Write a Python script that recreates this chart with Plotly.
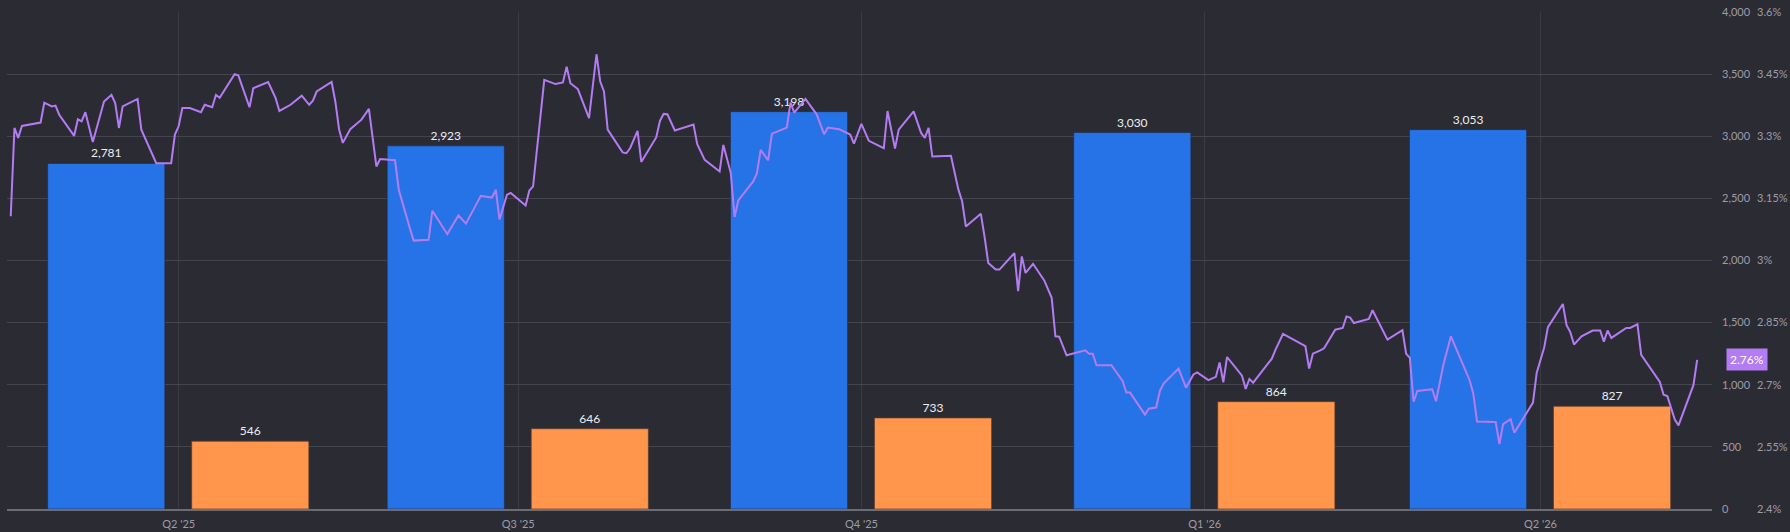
import plotly.graph_objects as go

# quarterly bars
quarters = ["2025-04-01", "2025-07-01", "2025-10-01", "2026-01-01", "2026-04-01"]
quarter_labels = ["Q2 '25", "Q3 '25", "Q4 '25", "Q1 '26", "Q2 '26"]
blue_vals = [2781, 2923, 3198, 3030, 3053]
orange_vals = [546, 646, 733, 864, 827]

# rate line (%)
rate_dates = [
    "2025-02-15", "2025-02-16", "2025-02-17", "2025-02-18", "2025-02-23", "2025-02-24",
    "2025-02-26", "2025-02-27", "2025-02-28", "2025-03-04", "2025-03-05", "2025-03-06",
    "2025-03-07", "2025-03-09", "2025-03-12", "2025-03-14", "2025-03-15", "2025-03-16",
    "2025-03-17", "2025-03-21", "2025-03-22", "2025-03-23", "2025-03-25", "2025-03-26",
    "2025-03-30", "2025-03-31", "2025-04-01", "2025-04-02", "2025-04-04", "2025-04-07",
    "2025-04-08", "2025-04-10", "2025-04-11", "2025-04-12", "2025-04-16", "2025-04-17",
    "2025-04-20", "2025-04-21", "2025-04-25", "2025-04-27", "2025-04-28", "2025-05-01",
    "2025-05-04", "2025-05-06", "2025-05-07", "2025-05-08", "2025-05-12", "2025-05-13",
    "2025-05-14", "2025-05-15", "2025-05-17", "2025-05-20", "2025-05-22", "2025-05-24",
    "2025-05-25", "2025-05-29", "2025-05-30", "2025-06-01", "2025-06-02", "2025-06-03",
    "2025-06-07", "2025-06-08", "2025-06-12", "2025-06-15", "2025-06-17", "2025-06-21",
    "2025-06-24", "2025-06-25", "2025-06-26", "2025-06-28", "2025-06-29", "2025-07-03",
    "2025-07-04", "2025-07-05", "2025-07-07", "2025-07-08", "2025-07-11", "2025-07-13",
    "2025-07-14", "2025-07-15", "2025-07-17", "2025-07-20", "2025-07-22", "2025-07-23",
    "2025-07-24", "2025-07-25", "2025-07-29", "2025-07-30", "2025-07-31", "2025-08-02",
    "2025-08-03", "2025-08-07", "2025-08-08", "2025-08-09", "2025-08-10", "2025-08-12",
    "2025-08-17", "2025-08-18", "2025-08-20", "2025-08-24", "2025-08-25", "2025-08-27",
    "2025-08-28", "2025-08-29", "2025-09-02", "2025-09-03", "2025-09-04", "2025-09-06",
    "2025-09-07", "2025-09-11", "2025-09-12", "2025-09-13", "2025-09-14", "2025-09-16",
    "2025-09-19", "2025-09-21", "2025-09-22", "2025-09-25", "2025-09-28", "2025-09-29",
    "2025-10-01", "2025-10-03", "2025-10-07", "2025-10-08", "2025-10-10", "2025-10-11",
    "2025-10-15", "2025-10-17", "2025-10-18", "2025-10-19", "2025-10-20", "2025-10-25",
    "2025-10-27", "2025-10-28", "2025-10-29", "2025-11-02", "2025-11-03", "2025-11-04",
    "2025-11-06", "2025-11-07", "2025-11-11", "2025-11-12", "2025-11-13", "2025-11-14",
    "2025-11-16", "2025-11-19", "2025-11-21", "2025-11-22", "2025-11-23", "2025-11-25",
    "2025-11-30", "2025-12-01", "2025-12-02", "2025-12-03", "2025-12-07", "2025-12-10",
    "2025-12-11", "2025-12-12", "2025-12-16", "2025-12-17", "2025-12-19", "2025-12-20",
    "2025-12-21", "2025-12-25", "2025-12-27", "2025-12-29", "2025-12-30", "2026-01-02",
    "2026-01-04", "2026-01-05", "2026-01-06", "2026-01-07", "2026-01-11", "2026-01-12",
    "2026-01-13", "2026-01-14", "2026-01-19", "2026-01-20", "2026-01-22", "2026-01-28",
    "2026-01-29", "2026-01-30", "2026-02-01", "2026-02-02", "2026-02-05", "2026-02-07",
    "2026-02-08", "2026-02-09", "2026-02-10", "2026-02-14", "2026-02-15", "2026-02-19",
    "2026-02-23", "2026-02-24", "2026-02-25", "2026-02-26", "2026-02-27", "2026-03-03",
    "2026-03-04", "2026-03-06", "2026-03-08", "2026-03-12", "2026-03-13", "2026-03-14",
    "2026-03-15", "2026-03-20", "2026-03-21", "2026-03-22", "2026-03-24", "2026-03-25",
    "2026-03-30", "2026-03-31", "2026-04-02", "2026-04-03", "2026-04-07", "2026-04-08",
    "2026-04-09", "2026-04-10", "2026-04-12", "2026-04-15", "2026-04-17", "2026-04-18",
    "2026-04-19", "2026-04-20", "2026-04-24", "2026-04-25", "2026-04-27", "2026-04-28",
    "2026-05-03", "2026-05-04", "2026-05-05", "2026-05-07", "2026-05-08", "2026-05-12",
    "2026-05-13",
]
rate_vals = [
    3.107, 3.320, 3.296, 3.325, 3.333, 3.381,
    3.372, 3.374, 3.352, 3.301, 3.341, 3.336,
    3.358, 3.286, 3.384, 3.400, 3.380, 3.320,
    3.372, 3.390, 3.316, 3.296, 3.255, 3.235,
    3.235, 3.304, 3.324, 3.368, 3.368, 3.358,
    3.376, 3.370, 3.400, 3.393, 3.450, 3.447,
    3.370, 3.416, 3.431, 3.392, 3.361, 3.376,
    3.398, 3.376, 3.386, 3.408, 3.431, 3.384,
    3.317, 3.284, 3.317, 3.340, 3.366, 3.227,
    3.245, 3.242, 3.171, 3.104, 3.077, 3.048,
    3.050, 3.120, 3.064, 3.109, 3.089, 3.156,
    3.152, 3.171, 3.099, 3.159, 3.163, 3.133,
    3.169, 3.179, 3.360, 3.436, 3.426, 3.430,
    3.468, 3.428, 3.414, 3.344, 3.498, 3.432,
    3.408, 3.316, 3.261, 3.259, 3.271, 3.313,
    3.238, 3.297, 3.337, 3.354, 3.353, 3.314,
    3.328, 3.281, 3.243, 3.215, 3.279, 3.211,
    3.105, 3.145, 3.191, 3.211, 3.267, 3.242,
    3.306, 3.321, 3.381, 3.357, 3.368, 3.390,
    3.353, 3.305, 3.321, 3.317, 3.304, 3.282,
    3.330, 3.289, 3.271, 3.361, 3.270, 3.316,
    3.360, 3.308, 3.296, 3.320, 3.251, 3.253,
    3.171, 3.143, 3.082, 3.113, 3.058, 2.994,
    2.978, 2.978, 3.018, 2.926, 3.010, 2.970,
    2.992, 2.952, 2.910, 2.817, 2.816, 2.771,
    2.783, 2.775, 2.775, 2.747, 2.747, 2.709,
    2.681, 2.681, 2.628, 2.642, 2.645, 2.685,
    2.703, 2.739, 2.693, 2.725, 2.730, 2.711,
    2.719, 2.754, 2.706, 2.767, 2.722, 2.690,
    2.714, 2.705, 2.763, 2.785, 2.823, 2.793,
    2.739, 2.775, 2.783, 2.788, 2.833, 2.837,
    2.865, 2.862, 2.849, 2.859, 2.880, 2.809,
    2.832, 2.775, 2.765, 2.659, 2.685, 2.689,
    2.660, 2.749, 2.817, 2.733, 2.711, 2.679,
    2.611, 2.610, 2.557, 2.605, 2.617, 2.584,
    2.657, 2.729, 2.790, 2.839, 2.895, 2.844,
    2.827, 2.797, 2.817, 2.831, 2.831, 2.804,
    2.831, 2.813, 2.837, 2.837, 2.846, 2.772,
    2.707, 2.676, 2.673, 2.616, 2.602, 2.699,
    2.760,
]

BG = "#2b2b34"
GRID = "#45454f"
TICK = "#9d9da6"
FONT = "Lato"
DAY = 86400000

fig = go.Figure()

fig.add_trace(go.Bar(
    x=quarters, y=blue_vals,
    width=31.4 * DAY, offset=-35.1 * DAY,
    marker=dict(color="#2673e8", line=dict(color="rgba(40,40,60,0.6)", width=1)),
    text=[f"{v:,}" for v in blue_vals], textposition="outside",
    textfont=dict(color="#eeeef2", size=12, family=FONT),
    cliponaxis=False, hoverinfo="skip",
))
fig.add_trace(go.Bar(
    x=quarters, y=orange_vals,
    width=31.4 * DAY, offset=3.5 * DAY,
    marker=dict(color="#ff964b", line=dict(color="rgba(90,60,50,0.7)", width=1)),
    text=[f"{v:,}" for v in orange_vals], textposition="outside",
    textfont=dict(color="#eeeef2", size=12, family=FONT),
    cliponaxis=False, hoverinfo="skip",
))
fig.add_trace(go.Scatter(
    x=rate_dates, y=rate_vals, yaxis="y2", mode="lines",
    line=dict(color="#b47cf2", width=2), hoverinfo="skip",
))

fig.add_annotation(
    x=0.9875, xref="paper", y=rate_vals[-1], yref="y2",
    text=f"{rate_vals[-1]:.2f}%", showarrow=False,
    bgcolor="#b47cf2", borderpad=3,
    font=dict(color="white", size=12, family=FONT),
)

fig.update_layout(
    width=1790, height=532,
    paper_bgcolor=BG, plot_bgcolor=BG,
    margin=dict(l=7, r=0, t=12, b=23),
    barmode="overlay", showlegend=False,
    font=dict(family=FONT, color=TICK, size=11),
    xaxis=dict(
        type="date", domain=[0, 0.9563],
        range=["2025-02-14", "2026-05-17"],
        tickvals=quarters, ticktext=quarter_labels,
        showgrid=True, gridcolor="#3b3b45", gridwidth=1,
        showline=True, linecolor="#6c6c75", linewidth=2,
        ticks="", ticklabelstandoff=4,
        tickfont=dict(color=TICK, size=11),
        zeroline=False,
    ),
    yaxis=dict(
        range=[0, 4000], dtick=500, tickformat=",",
        side="right", showgrid=True, gridcolor=GRID, gridwidth=1,
        zeroline=False, ticks="", ticklabelstandoff=9,
        tickfont=dict(color=TICK, size=11),
    ),
    yaxis2=dict(
        range=[2.4, 3.6], dtick=0.15, ticksuffix="%",
        overlaying="y", side="right", anchor="free", position=0.9776,
        showgrid=False, zeroline=False, ticks="", ticklabelstandoff=6,
        tickfont=dict(color=TICK, size=11),
    ),
)

# page margin off so the 1790x532 figure fills the window exactly
fig.write_html(
    "out.html",
    config={"displayModeBar": False},
    post_script="document.body.style.margin='0';document.body.style.overflow='hidden';",
)
